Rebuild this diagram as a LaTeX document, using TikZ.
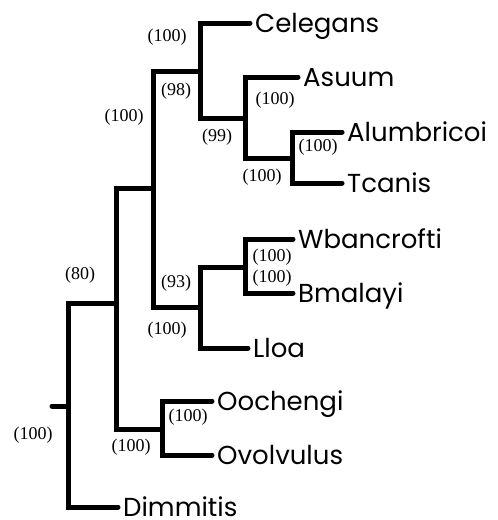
\documentclass[tikz,border=0pt]{standalone}
\usepackage{fontspec}
\setmainfont{Liberation Serif}
\newfontfamily\leaffont{Poppins}
\begin{document}
\begin{tikzpicture}[x=1pt,y=-1pt,
  branch/.style={line width=5pt,line cap=round,line join=miter,black},
  leaf/.style={font=\leaffont\fontsize{26}{26}\selectfont,anchor=west,inner xsep=5pt,inner ysep=0pt,text height=18pt,text depth=0pt},
  boot/.style={font=\fontsize{18}{18}\selectfont,inner sep=0pt}]
\useasboundingbox (0,0) rectangle (498,520);
% internal junctions
\coordinate (stub) at (52,406);
\coordinate (root) at (68,406);
\coordinate (n80) at (116,303);
\coordinate (nA) at (153,188);
\coordinate (n98) at (200,71);
\coordinate (n99) at (245,118);
\coordinate (nAT) at (292,158);
\coordinate (n93) at (200,307);
\coordinate (nWB) at (245,267);
\coordinate (nOO) at (162,429);
% leaves
\node[leaf] (celegans) at (250,23) {Celegans};
\node[leaf] (asuum) at (298,77) {Asuum};
\node[leaf] (alumbricoi) at (342,132) {Alumbricoi};
\node[leaf] (tcanis) at (342,183) {Tcanis};
\node[leaf] (wbancrofti) at (293,239) {Wbancrofti};
\node[leaf] (bmalayi) at (293,293) {Bmalayi};
\node[leaf] (lloa) at (248,348) {Lloa};
\node[leaf] (oochengi) at (212,401) {Oochengi};
\node[leaf] (ovolvulus) at (212,455) {Ovolvulus};
\node[leaf] (dimmitis) at (118,507) {Dimmitis};
% branches
\draw[branch] (stub) -- (root);
\draw[branch] (root) |- (n80);
\draw[branch] (root) |- (dimmitis.west);
\draw[branch] (n80) |- (nA);
\draw[branch] (n80) |- (nOO);
\draw[branch] (nA) |- (n98);
\draw[branch] (nA) |- (n93);
\draw[branch] (n98) |- (celegans.west);
\draw[branch] (n98) |- (n99);
\draw[branch] (n99) |- (asuum.west);
\draw[branch] (n99) |- (nAT);
\draw[branch] (nAT) |- (alumbricoi.west);
\draw[branch] (nAT) |- (tcanis.west);
\draw[branch] (n93) |- (nWB);
\draw[branch] (n93) |- (lloa.west);
\draw[branch] (nWB) |- (wbancrofti.west);
\draw[branch] (nWB) |- (bmalayi.west);
\draw[branch] (nOO) |- (oochengi.west);
\draw[branch] (nOO) |- (ovolvulus.west);
% bootstrap values
\node[boot] (b1) at (167,37) {(100)};
\node[boot] (b2) at (176,91) {(98)};
\node[boot] (b3) at (124,117) {(100)};
\node[boot] (b4) at (217,137) {(99)};
\node[boot] (b5) at (275,100) {(100)};
\node[boot] (b6) at (318,147) {(100)};
\node[boot] (b7) at (262,177) {(100)};
\node[boot] (b8) at (272,257) {(100)};
\node[boot] (b9) at (272,278) {(100)};
\node[boot] (b10) at (176,283) {(93)};
\node[boot] (b11) at (167,330) {(100)};
\node[boot] (b12) at (80,275) {(80)};
\node[boot] (b13) at (188,417) {(100)};
\node[boot] (b14) at (131,447) {(100)};
\node[boot] (b15) at (33,435) {(100)};
\end{tikzpicture}
\end{document}
